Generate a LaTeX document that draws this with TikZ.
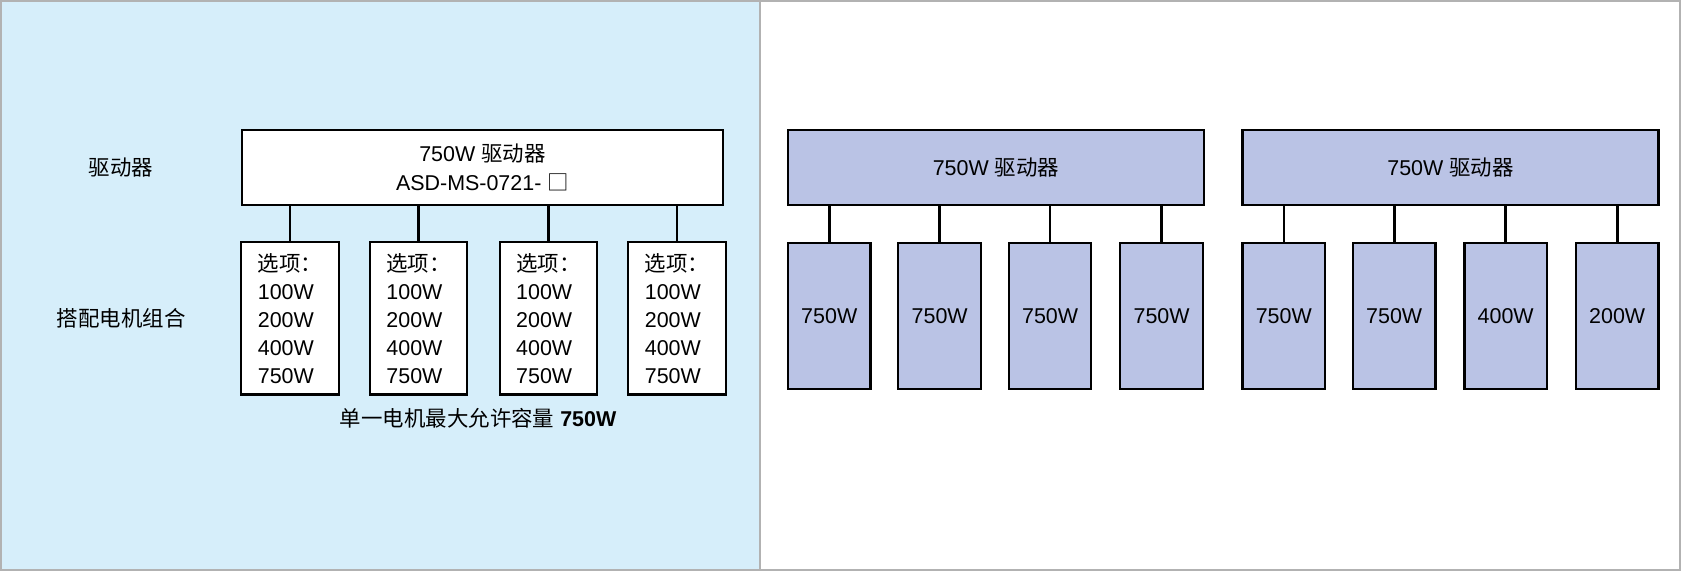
\documentclass[tikz,border=0pt]{standalone}
\usepackage{fontspec}
\setmainfont{Liberation Sans}
\newfontfamily\cjk{Noto Sans CJK SC}
\begin{document}
\begin{tikzpicture}[x=0.5pt,y=-0.5pt,
 bx/.style={draw=black,line width=1pt,inner sep=0pt,anchor=north west},
 pur/.style={bx,fill=purp},
 wht/.style={bx,fill=white},
 lab/.style={font=\fontsize{10}{12}\selectfont},
 con/.style={line width=1.2pt}]
\definecolor{lblue}{HTML}{D6EEFA}
\definecolor{purp}{HTML}{BAC3E5}
\useasboundingbox (0,0) rectangle (1568,533);
\fill[lblue] (0,0) rectangle (709,533);
\draw[gray!60,line width=1pt] (1,1) rectangle (1567,532);
\draw[gray!60,line width=1pt] (709,0) -- (709,533);
\node[lab] (l1) at (113,156) {\cjk 驱动器};
\node[lab] (l2) at (113,297) {\cjk 搭配电机组合};
\node[wht,minimum width=224pt,minimum height=35pt,align=center,font=\fontsize{10}{13.5}\selectfont] (D) at (225,120) {750W {\cjk 驱动器}\\ASD-MS-0721- {\cjk □}};
\foreach \x [count=\i] in {224,344,465,585}{
 \node[wht,minimum width=45.5pt,minimum height=71pt] (s\i) at (\x,225) {};
 \node[lab,align=left,font=\fontsize{10}{13}\selectfont] at (s\i.center) {{\cjk 选项：}\\100W\\200W\\400W\\750W};
 \draw[con] (s\i.north) -- (s\i.north |- D.south);
}
\node[lab] (cap) at (446,390) {{\cjk 单一电机最大允许容量} \textbf{750W}};
\node[pur,minimum width=194pt,minimum height=35pt,font=\fontsize{10}{12}\selectfont] (A) at (734,120) {750W {\cjk 驱动器}};
\node[pur,minimum width=194pt,minimum height=35pt,font=\fontsize{10}{12}\selectfont] (B) at (1158,120) {750W {\cjk 驱动器}};
\foreach \x/\t [count=\i] in {734/750W,837/750W,940/750W,1044/750W}{
 \node[pur,minimum width=38.5pt,minimum height=68pt,font=\fontsize{10}{12}\selectfont] (a\i) at (\x,226) {\t};
 \draw[con] (a\i.north) -- (a\i.north |- A.south);
}
\foreach \x/\t [count=\i] in {1158/750W,1261/750W,1365/400W,1469/200W}{
 \node[pur,minimum width=38.5pt,minimum height=68pt,font=\fontsize{10}{12}\selectfont] (b\i) at (\x,226) {\t};
 \draw[con] (b\i.north) -- (b\i.north |- B.south);
}
\end{tikzpicture}
\end{document}
